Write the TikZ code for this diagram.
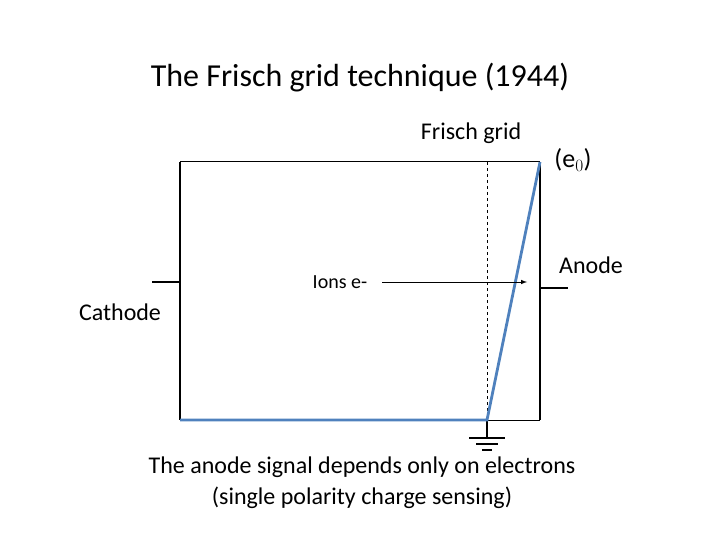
\documentclass[tikz,border=0pt]{standalone}
\usepackage{fontspec}
\setmainfont{Carlito}
\begin{document}
\begin{tikzpicture}[x=1pt,y=-1pt,
  thickl/.style={line width=2.4pt},
  thinl/.style={line width=1pt},
  sig/.style={line width=2.8pt,color=blueline},
  lbl/.style={inner sep=0pt,font=\fontsize{24}{28}\selectfont}]
\definecolor{blueline}{RGB}{79,129,189}
\useasboundingbox (0,0) rectangle (720,540);
\coordinate (tl) at (180,162); \coordinate (tr) at (540,162);
\coordinate (bl) at (180,420); \coordinate (br) at (540,420);
\coordinate (g) at (487,420); \coordinate (gt) at (487,162);
\draw[thinl] (tl) -- (tr);
\draw[thinl] (bl) -- (br);
\draw[thickl] (tl) -- (bl);
\draw[thickl] (tr) -- (br);
\draw[dashed,line width=0.7pt] (gt) -- (g);
\coordinate (c1) at (152,282); \coordinate (c2) at (180,282);
\draw[thickl] (c1) -- (c2);
\coordinate (a1) at (540,288); \coordinate (a2) at (568,288);
\draw[thickl] (a1) -- (a2);
\coordinate (g2) at (487,438);
\draw[thickl] (g) -- (g2);
\draw[thickl] (469,438) -- (505,438);
\draw[thickl] (476,444) -- (498,444);
\draw[thickl] (482,450) -- (492,450);
\draw[sig] (bl) -- (g) -- (tr);
\node[lbl] (ions) at (340,282) {\fontsize{20}{24}\selectfont Ions e-};
\coordinate (ae) at (527,282);
\draw[thinl,-latex] (382,282) -- (ae);
\node[lbl] (title) at (360,78) {\fontsize{32}{36}\selectfont The Frisch grid technique (1944)};
\node[lbl] (fg) at (471,133) {Frisch grid};
\node[lbl] (e0) at (573,160) {\fontsize{26}{30}\selectfont (e$_0$)};
\node[lbl] (an) at (591,265) {Anode};
\node[lbl] (ca) at (120,312) {Cathode};
\node[lbl,align=center,font=\fontsize{24}{31}\selectfont] (bt) at (362,483) {The anode signal depends only on electrons\\(single polarity charge sensing)};
\end{tikzpicture}
\end{document}
